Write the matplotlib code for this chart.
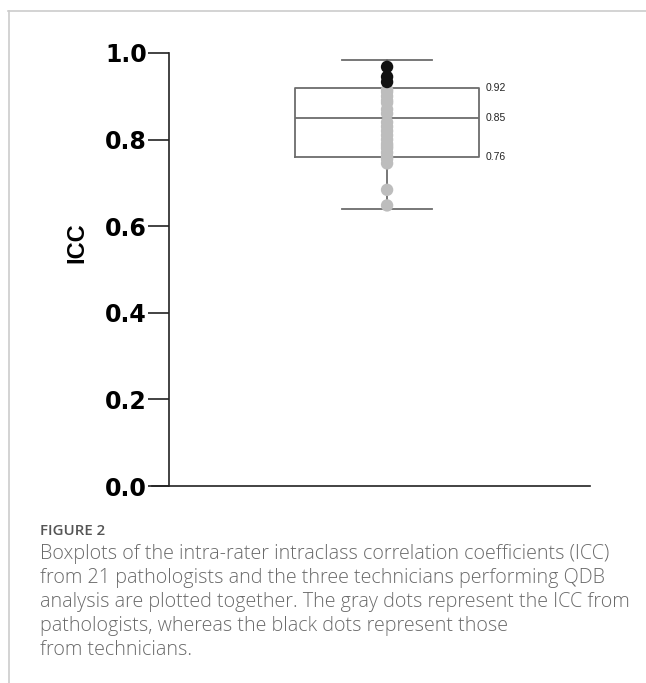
import matplotlib.pyplot as plt
from matplotlib.lines import Line2D

# --- Données ---
icc_pathologistes = [0.915, 0.91, 0.90, 0.89, 0.885, 0.87, 0.86, 0.84, 0.83, 0.82,
                     0.81, 0.80, 0.79, 0.785, 0.78, 0.77, 0.76, 0.755, 0.745, 0.684, 0.648]
icc_techniciens = [0.968, 0.945, 0.933]
quartiles = [0.76, 0.85, 0.92]        # Q1, médiane, Q3
moustaches = [0.64, 0.984]            # bas, haut
etiquettes_quartiles = ["0.76", "0.85", "0.92"]
ticks_y = [0.0, 0.2, 0.4, 0.6, 0.8, 1.0]

lignes_legende = [
    "Boxplots of the intra-rater intraclass correlation coefficients (ICC)",
    "from 21 pathologists and the three technicians performing QDB",
    "analysis are plotted together. The gray dots represent the ICC from",
    "pathologists, whereas the black dots represent those",
    "from technicians.",
]

fig = plt.figure(figsize=(6.46, 6.83), dpi=100)
ax = fig.add_axes([169 / 646, 1 - 486 / 683, 421 / 646, 433 / 683])

pos = 0.518
stats = [{
    "med": quartiles[1], "q1": quartiles[0], "q3": quartiles[2],
    "whislo": moustaches[0], "whishi": moustaches[1], "fliers": [],
}]
gris_boite = "#6c6c6c"
ax.bxp(stats, positions=[pos], widths=0.437, showfliers=False,
       boxprops=dict(color=gris_boite, linewidth=1.3),
       medianprops=dict(color=gris_boite, linewidth=1.3),
       whiskerprops=dict(color=gris_boite, linewidth=1.3),
       capprops=dict(color=gris_boite, linewidth=1.3), capwidths=0.214,
       zorder=1)

ax.scatter([pos] * len(icc_pathologistes), icc_pathologistes, s=80,
           color="#bdbdbd", edgecolors="none", zorder=3)
ax.scatter([pos] * len(icc_techniciens), icc_techniciens, s=80,
           color="#111111", edgecolors="none", zorder=4)

# étiquettes des quartiles à droite de la boîte
for val, txt in zip(quartiles, etiquettes_quartiles):
    ax.text(pos + 0.437 / 2 + 0.015, val, txt, fontsize=7.5, va="center",
            ha="left", family="Liberation Sans", color="#222222")

ax.set_xlim(0, 1)
ax.set_ylim(0, 1)
ax.set_xticks([])
ax.set_yticks(ticks_y)
ax.set_yticklabels([f"{t:.1f}" for t in ticks_y], fontsize=17,
                   fontweight="bold", family="DejaVu Sans")
ax.tick_params(axis="y", length=15, width=1.2, pad=1, color="#222222")
ax.set_ylabel("ICC", fontsize=17, fontweight="bold", family="Liberation Sans")
ax.yaxis.set_label_coords(-0.192, 0.561)
for s in ["top", "right"]:
    ax.spines[s].set_visible(False)
for s in ["left", "bottom"]:
    ax.spines[s].set_linewidth(1.2)
    ax.spines[s].set_color("#222222")
ax.spines["bottom"].set_bounds(-0.04, 1)
ax.spines["bottom"].set_clip_on(False)

# cadre de la page
fig.add_artist(Line2D([8 / 646, 1], [1 - 11 / 683, 1 - 11 / 683],
                      color="#cccccc", linewidth=1.2))
fig.add_artist(Line2D([9 / 646, 9 / 646], [0, 1 - 11 / 683],
                      color="#cccccc", linewidth=1.2))

fig.text(40 / 646, 1 - 535 / 683, "FIGURE 2", fontsize=10.8, color="#555555",
         family="Open Sans", fontweight="semibold", va="baseline")
for i, ligne in enumerate(lignes_legende):
    fig.text(40 / 646, 1 - (559 + 24 * i) / 683, ligne, fontsize=14.25,
             color="#6a6a6a", family="Open Sans", fontweight="light",
             va="baseline")

fig.savefig("out.png", dpi=100)
